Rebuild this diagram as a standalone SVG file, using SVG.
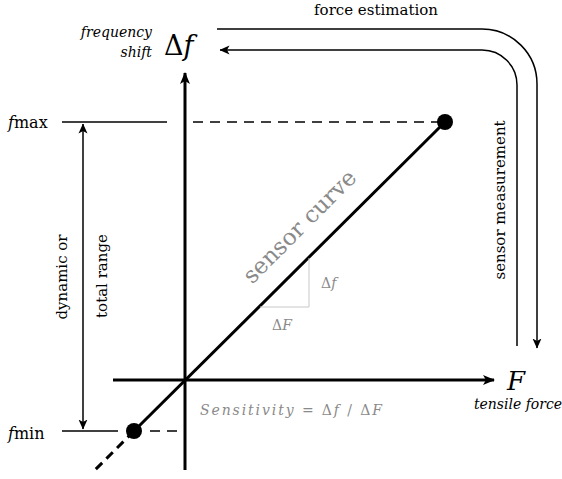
<svg xmlns="http://www.w3.org/2000/svg" width="562" height="479" viewBox="0 0 562 479">
<style>
text{font-family:"DejaVu Serif","Liberation Serif",serif;fill:#000}
.it{font-style:italic}
.gray{fill:#8a8a8a}
.ax{stroke:#000;stroke-width:3;fill:none}
.thin{stroke:#000;stroke-width:1.5;fill:none}
.dash{stroke:#000;stroke-width:1.5;stroke-dasharray:10 7;fill:none}
</style>
<defs>
<marker id="big" viewBox="0 0 12 10" refX="11" refY="5" markerWidth="12" markerHeight="10" markerUnits="userSpaceOnUse" orient="auto">
<path d="M0,0 L12,5 L0,10 L3,5 Z" fill="#000"/>
</marker>
<marker id="sm" viewBox="0 0 10 10" refX="9.5" refY="5" markerWidth="10" markerHeight="10" markerUnits="userSpaceOnUse" orient="auto">
<path d="M0,0.5 L10,5 L0,9.5 L2.5,5 Z" fill="#000"/>
</marker>
</defs>
<g id="connectors">
<line class="ax" x1="185" y1="470" x2="185" y2="73" marker-end="url(#big)"/>
<line class="ax" x1="113" y1="380" x2="494" y2="380" marker-end="url(#big)"/>
<line class="thin" x1="62" y1="122" x2="167" y2="122"/>
<line class="dash" x1="193" y1="122" x2="440" y2="122"/>
<line class="thin" x1="62" y1="431" x2="118" y2="431"/>
<line class="dash" x1="150" y1="431" x2="185" y2="431"/>
<line class="ax" x1="134" y1="431" x2="445" y2="122"/>
<line class="ax" x1="134" y1="431" x2="92" y2="473" style="stroke-dasharray:9 6"/>
<line class="thin" x1="83" y1="276" x2="83" y2="124" marker-end="url(#sm)"/>
<line class="thin" x1="83" y1="276" x2="83" y2="429" marker-end="url(#sm)"/>
<path class="thin" d="M217,29 H482 A55,55 0 0 1 537,84 V348" marker-end="url(#sm)"/>
<path class="thin" d="M517,346 V85 A35,35 0 0 0 482,50 H220" marker-end="url(#sm)"/>
<polyline points="260,307 309,307 309,258" fill="none" stroke="#c8c8c8" stroke-width="1"/>
</g>
<g id="dot-max"><circle cx="445" cy="122" r="8" fill="#000"/></g>
<g id="dot-min"><circle cx="134" cy="431" r="8" fill="#000"/></g>
<g id="labels">
<text x="152" y="37" class="it" font-size="14" text-anchor="end">frequency</text>
<text x="152" y="57" class="it" font-size="14" text-anchor="end">shift</text>
<text x="164" y="55" font-size="27">Δ<tspan class="it">f</tspan></text>
<text x="376" y="15" font-size="15" text-anchor="middle">force estimation</text>
<text transform="translate(505,200) rotate(-90)" font-size="15" text-anchor="middle">sensor measurement</text>
<text x="8" y="128" font-size="16"><tspan class="it">f</tspan>max</text>
<text x="8" y="439" font-size="16"><tspan class="it">f</tspan>min</text>
<text transform="translate(67,277) rotate(-90)" font-size="15" text-anchor="middle">dynamic or</text>
<text transform="translate(107,276) rotate(-90)" font-size="15" text-anchor="middle">total range</text>
<text x="507" y="390" class="it" font-size="26">F</text>
<text x="518" y="409" class="it" font-size="14" text-anchor="middle">tensile force</text>
<text transform="translate(305,232) rotate(-45)" class="gray" font-size="23" text-anchor="middle">sensor curve</text>
<text x="321" y="288" class="gray" font-size="14">Δ<tspan class="it">f</tspan></text>
<text x="272" y="330" class="gray" font-size="14">Δ<tspan class="it">F</tspan></text>
<text x="200" y="415" class="gray it" font-size="14" textLength="182" lengthAdjust="spacing">Sensitivity<tspan font-style="normal"> = Δ</tspan>f<tspan font-style="normal"> / Δ</tspan>F</text>
</g>
</svg>
